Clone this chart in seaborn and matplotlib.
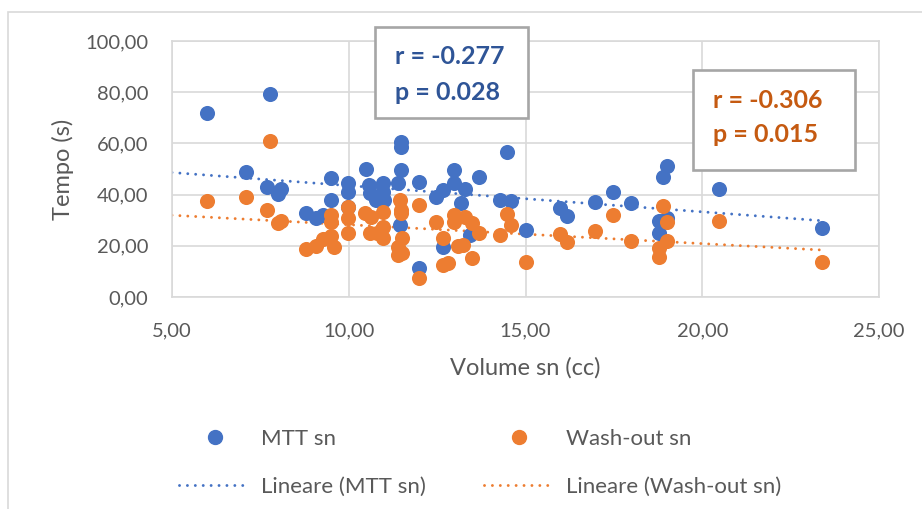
import numpy as np
import pandas as pd
import matplotlib
matplotlib.use("Agg")
import matplotlib.pyplot as plt
from matplotlib.lines import Line2D
from matplotlib.patches import Rectangle
import seaborn as sns

# Volume (cc) vs time (s) for MTT and wash-out
mtt_volume = [6.00, 7.78, 7.08, 7.68, 8.08, 7.99, 8.79, 9.07, 9.49, 9.49, 9.28,
              9.97, 9.97, 9.97, 10.49, 10.58, 10.60, 10.77, 10.98, 10.98, 11.00,
              11.38, 11.48, 11.48, 11.48, 11.45, 11.99, 11.99, 12.47, 12.67, 12.98,
              12.98, 13.29, 13.18, 13.68, 14.49, 14.28, 14.60, 15.00, 12.67, 13.43,
              15.98, 16.18, 16.98, 17.48, 17.98, 18.99, 18.90, 18.79, 18.99, 18.79,
              20.48, 23.38]
mtt_time = [72.0, 79.2, 48.9, 43.1, 42.2, 40.1, 32.8, 31.0, 46.4, 37.9, 32.0,
            44.6, 41.1, 35.3, 49.9, 43.7, 40.5, 37.9, 44.4, 41.1, 37.9,
            44.7, 60.7, 58.7, 49.6, 28.1, 44.8, 11.2, 38.9, 41.8, 49.6,
            44.4, 42.1, 36.6, 46.8, 56.8, 37.9, 37.5, 26.2, 19.6, 24.2,
            34.6, 31.6, 37.2, 41.1, 36.6, 51.2, 47.0, 29.8, 30.7, 24.9,
            42.3, 27.1]

wash_volume = [5.98, 7.08, 7.78, 7.68, 7.99, 8.08, 8.80, 9.08, 9.28, 9.49, 9.58,
               9.49, 9.49, 9.99, 9.99, 9.99, 10.46, 10.62, 10.60, 10.79, 10.98,
               10.98, 10.98, 11.45, 11.48, 11.48, 11.50, 11.40, 11.38, 11.50, 11.99,
               11.99, 12.47, 12.67, 12.67, 12.82, 12.98, 12.98, 13.10, 13.24, 13.29,
               13.48, 13.68, 13.48, 14.28, 14.49, 14.58, 15.00, 15.98, 16.18, 16.98,
               17.48, 17.98, 18.90, 18.99, 18.99, 18.79, 18.79, 20.48, 23.38]
wash_time = [37.4, 39.1, 60.9, 33.9, 28.8, 29.8, 18.9, 19.8, 22.8, 23.9, 19.6,
             32.2, 29.4, 35.0, 30.7, 24.9, 32.7, 31.4, 24.9, 24.9, 33.3,
             27.5, 22.9, 37.9, 34.0, 32.7, 22.9, 19.6, 16.4, 17.1, 35.9,
             7.5, 29.4, 22.9, 12.5, 13.4, 32.0, 29.4, 19.9, 20.3, 31.4,
             28.8, 24.9, 15.1, 24.2, 32.5, 28.1, 13.8, 24.6, 21.4, 25.9,
             32.0, 21.9, 35.5, 29.4, 21.9, 19.0, 15.7, 29.8, 13.8]

x_ticks = [5, 10, 15, 20, 25]
y_ticks = [0, 20, 40, 60, 80, 100]

mtt_stats = ["r = -0.277", "p = 0.028"]
wash_stats = ["r = -0.306", "p = 0.015"]

BLUE = "#4472C4"
ORANGE = "#ED7D31"
TXT = "#595959"
GRID = "#D9D9D9"

sns.set_theme(style="white")
plt.rcParams["font.family"] = ["Lato", "DejaVu Sans"]

fig = plt.figure(figsize=(9.22, 5.09), dpi=100)
ax = fig.add_axes([172 / 922, 1 - 297 / 509, 707 / 922, 256 / 509])

# chart-area frame
fig.patches.append(Rectangle((8 / 922, -0.05), 1.2, 1 - 12 / 509 + 0.05,
                             transform=fig.transFigure, fill=False,
                             edgecolor=GRID, linewidth=1.2))

mtt = pd.DataFrame({"volume": mtt_volume, "time": mtt_time})
wash = pd.DataFrame({"volume": wash_volume, "time": wash_time})

ax.set_xlim(5, 25)
ax.set_ylim(0, 100)

# linear trend lines
dot_style = dict(linewidth=2.1, linestyle=(0, (0.01, 2.7)),
                 dash_capstyle="round")
for df, col in ((mtt, BLUE), (wash, ORANGE)):
    k, q = np.polyfit(df["volume"], df["time"], 1)
    xs = np.array([5.0, df["volume"].max()])
    ax.plot(xs, k * xs + q, color=col, zorder=2, **dot_style)

sns.scatterplot(data=mtt, x="volume", y="time", ax=ax, color=BLUE,
                s=118, linewidth=0, zorder=3)
sns.scatterplot(data=wash, x="volume", y="time", ax=ax, color=ORANGE,
                s=118, linewidth=0, zorder=4)

ax.set_xticks(x_ticks)
ax.set_yticks(y_ticks)
ax.set_xticklabels([f"{v:.2f}".replace(".", ",") for v in x_ticks])
ax.set_yticklabels([f"{v:.2f}".replace(".", ",") for v in y_ticks])
ax.tick_params(axis="x", length=0, pad=18, labelsize=14.5, labelcolor=TXT)
ax.tick_params(axis="y", length=0, pad=17, labelsize=14.5, labelcolor=TXT)
ax.grid(True, color=GRID, linewidth=1.2)
ax.set_axisbelow(True)
for sp in ax.spines.values():
    sp.set_color(GRID)
    sp.set_linewidth(1.2)

ax.set_xlabel("Volume sn (cc)", fontsize=17, color=TXT, labelpad=13)
ax.set_ylabel("Tempo (s)", fontsize=17, color=TXT, labelpad=8)

# correlation boxes
def stat_box(x0, y0, x1, y1, lines, color):
    fig.patches.append(Rectangle((x0 / 922, 1 - y1 / 509), (x1 - x0) / 922,
                                 (y1 - y0) / 509, transform=fig.transFigure,
                                 facecolor="white", edgecolor="#A6A6A6",
                                 linewidth=1.9, zorder=5))
    for i, t in enumerate(lines):
        fig.text((x0 + 20) / 922, 1 - (y0 + 30 + 35 * i) / 509, t,
                 fontsize=18, fontweight="bold", color=color,
                 va="center", ha="left", zorder=6)

stat_box(375, 27, 528, 118, mtt_stats, "#2F5597")
stat_box(693, 70, 855, 170, wash_stats, "#C55A11")

# legend
handles = [
    Line2D([], [], marker="o", linestyle="none", color=BLUE, markersize=10),
    Line2D([], [], color=BLUE, **dot_style),
    Line2D([], [], marker="o", linestyle="none", color=ORANGE, markersize=10),
    Line2D([], [], color=ORANGE, **dot_style),
]
labels = ["MTT sn", "Lineare (MTT sn)", "Wash-out sn", "Lineare (Wash-out sn)"]
leg = fig.legend(handles, labels, ncol=2, loc="upper left",
                 bbox_to_anchor=(179 / 922, 1 - 429 / 509), frameon=False,
                 fontsize=16, handlelength=3.2, handletextpad=0.5,
                 columnspacing=2.6, labelspacing=1.25, borderpad=0,
                 borderaxespad=0)
for t in leg.get_texts():
    t.set_color(TXT)

fig.savefig("out.png", dpi=100)
